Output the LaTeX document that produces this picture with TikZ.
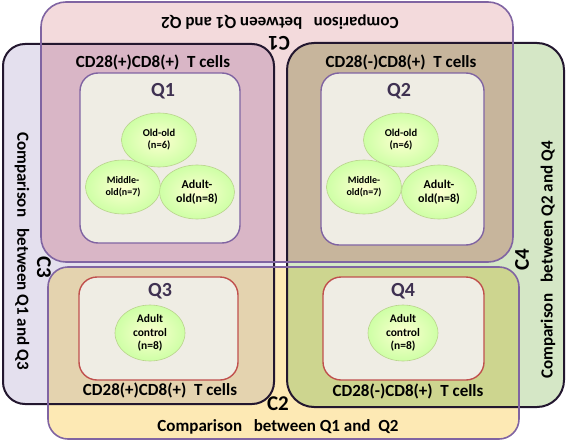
\documentclass[tikz,border=0pt]{standalone}
\usepackage{fontspec}
\setmainfont{Carlito}
\usetikzlibrary{shapes.geometric}

\definecolor{lavfill}{HTML}{E4E0EE}
\definecolor{grnfill}{HTML}{D5E7C6}
\definecolor{pnkfill}{HTML}{F3DADC}
\definecolor{ylwfill}{HTML}{FDE9B4}
\definecolor{rosefill}{HTML}{D9B6C6}
\definecolor{tanfill}{HTML}{C7B59C}
\definecolor{sandfill}{HTML}{E4D3AF}
\definecolor{olvfill}{HTML}{CDD58F}
\definecolor{innerfill}{HTML}{EFEDE4}
\definecolor{purpline}{HTML}{8064A2}
\definecolor{redline}{HTML}{C0504D}
\definecolor{darkline}{HTML}{23172F}
\definecolor{qtext}{HTML}{3F3151}
\definecolor{ellline}{HTML}{B9D38C}

\tikzset{
  bigline/.style={line width=1.6pt, rounded corners=22pt},
  innerbox/.style={fill=innerfill, line width=1.4pt, rounded corners=18pt},
  grouplbl/.style={ellipse, draw=ellline, line width=0.6pt, inner color=white!60!green!12!yellow!20,
    outer color=green!55!yellow!35!white, minimum width=75pt, minimum height=54pt,
    inner sep=0pt, align=center, font=\bfseries\fontsize{10.5}{12}\selectfont},
  ctrllbl/.style={grouplbl, minimum width=70pt, minimum height=56pt, font=\bfseries\fontsize{11.5}{13.5}\selectfont},
  qlbl/.style={font=\bfseries\fontsize{20}{20}\selectfont, text=qtext},
  clbl/.style={font=\bfseries\fontsize{21}{21}\selectfont},
  cdlbl/.style={font=\bfseries\fontsize{17}{17}\selectfont},
  cmplbl/.style={font=\bfseries\fontsize{17}{17}\selectfont}
}

\begin{document}
\begin{tikzpicture}[x=1pt,y=-1pt]
\useasboundingbox (0,0) rectangle (567,444);

% comparison areas
\fill[lavfill, rounded corners=22pt] (3,44) rectangle (274,404);
\fill[grnfill, rounded corners=27pt] (287,43) rectangle (564,407);
\fill[pnkfill, rounded corners=25pt] (41,2) rectangle (513,262);
\fill[ylwfill, rounded corners=20pt] (48,267) rectangle (519,439);

% overlaps
\begin{scope}
  \clip[rounded corners=25pt] (41,2) rectangle (513,262);
  \fill[rosefill, rounded corners=22pt] (3,44) rectangle (274,404);
  \fill[tanfill, rounded corners=27pt] (287,43) rectangle (564,407);
\end{scope}
\begin{scope}
  \clip[rounded corners=20pt] (48,267) rectangle (519,439);
  \fill[sandfill, rounded corners=22pt] (3,44) rectangle (274,404);
  \fill[olvfill, rounded corners=27pt] (287,43) rectangle (564,407);
\end{scope}

% outlines
\draw[bigline, draw=darkline, line width=2pt] (3,44) rectangle (274,404);
\draw[bigline, draw=darkline, line width=2pt, rounded corners=27pt] (287,43) rectangle (564,407);
\draw[bigline, draw=purpline, rounded corners=25pt] (41,2) rectangle (513,262);
\draw[bigline, draw=purpline, rounded corners=20pt] (48,267) rectangle (519,439);

% quadrants
\draw[innerbox, draw=purpline] (80,73) rectangle (240,243);
\draw[innerbox, draw=purpline] (321,73) rectangle (484,245);
\draw[innerbox, draw=redline] (79,277) rectangle (238,380);
\draw[innerbox, draw=redline] (323,277) rectangle (484,380);

\node[qlbl] (qone) at (163,91) {Q1};
\node[qlbl] (qtwo) at (399,91) {Q2};
\node[qlbl] (qthree) at (160,291) {Q3};
\node[qlbl] (qfour) at (403,291) {Q4};

\node[grouplbl] (oldA) at (159,140) {Old-old\\(n=6)};
\node[grouplbl, font=\bfseries\fontsize{10}{12}\selectfont] (midA) at (123,187) {Middle-\\old(n=7)};
\node[grouplbl, font=\bfseries\fontsize{12}{14}\selectfont] (adultA) at (197,192) {Adult-\\old(n=8)};
\node[grouplbl] (oldB) at (401,140) {Old-old\\(n=6)};
\node[grouplbl, font=\bfseries\fontsize{10}{12}\selectfont] (midB) at (364,187) {Middle-\\old(n=7)};
\node[grouplbl, font=\bfseries\fontsize{12}{14}\selectfont] (adultB) at (439,192) {Adult-\\old(n=8)};
\node[ctrllbl] (ctrlA) at (150,333) {Adult\\control\\(n=8)};
\node[ctrllbl] (ctrlB) at (403,333) {Adult\\control\\(n=8)};

\node[cdlbl] (cdA) at (153,62) {CD28(+)CD8(+)\ \ T cells};
\node[cdlbl] (cdB) at (401,62) {CD28(-)CD8(+)\ \ T cells};
\node[cdlbl] (cdC) at (160,390) {CD28(+)CD8(+)\ \ T cells};
\node[cdlbl] (cdD) at (408,391) {CD28(-)CD8(+)\ \ T cells};

% comparison labels
\node[clbl, rotate=180] (cone) at (279,43) {C1};
\node[cmplbl, rotate=180] (cmpone) at (280,22) {Comparison\ \ \ between Q1 and Q2};
\node[clbl] (ctwo) at (278,404) {C2};
\node[cmplbl] (cmptwo) at (278,427) {Comparison\ \ \ between Q1 and\ \ Q2};
\node[clbl, rotate=-90] (cthree) at (44,267) {C3};
\node[cmplbl, rotate=-90] (cmpthree) at (22,251) {Comparison\ \ \ between Q1 and Q3};
\node[clbl, rotate=90] (cfour) at (522,260) {C4};
\node[cmplbl, rotate=90] (cmpfour) at (548,260) {Comparison\ \ \ between Q2 and Q4};
\end{tikzpicture}
\end{document}
